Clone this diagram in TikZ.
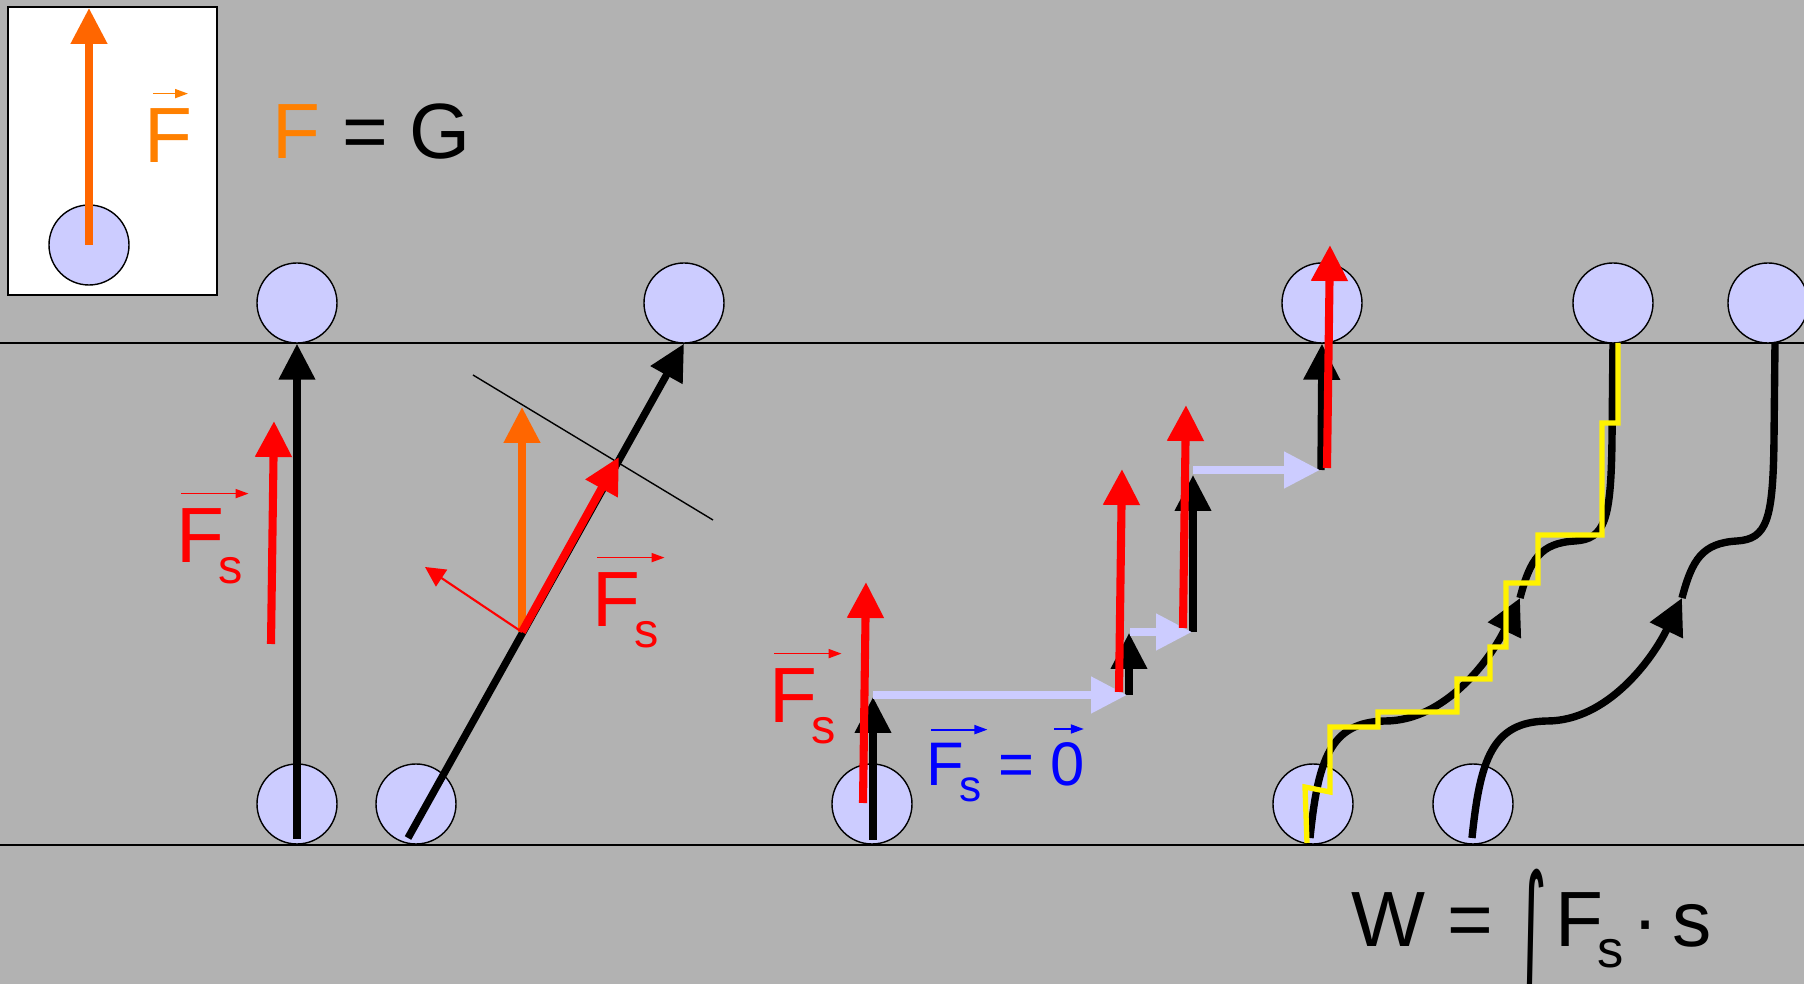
\documentclass[tikz,border=0pt]{standalone}
\usepackage{fontspec}
\setmainfont{Liberation Sans}
\newfontfamily\symfont{DejaVu Sans}
\usepackage{graphicx}
\usetikzlibrary{arrows.meta}
\definecolor{bggray}{RGB}{178,178,178}
\definecolor{ballblue}{RGB}{204,204,255}
\definecolor{forange}{RGB}{255,102,0}
\definecolor{torange}{RGB}{255,128,0}
\newcommand{\subs}[2][0.62]{\kern-0.08em\raisebox{-0.26em}{\scalebox{#1}{#2}}}
\begin{document}
\begin{tikzpicture}[x=0.1mm, y=-0.1mm, >={Triangle[length=3.6mm,width=3.5mm]},
  ball/.style={circle, draw, line width=0.4pt, fill=ballblue, minimum size=8mm, inner sep=0pt},
  rod/.style={->, line width=2.1pt},
  fs/.style={->, red, line width=2.3pt},
  slide/.style={->, ballblue, line width=2.2pt},
  path/.style={line width=2.1pt},
  overarr/.style={-{Triangle[length=1.3mm,width=0.9mm]}, line width=0.5pt},
  txt/.style={anchor=base west, inner sep=0pt, font=\fontsize{22.3}{26}\selectfont}]
  % Background and rails
  \useasboundingbox (0,0) rectangle (1804,984);
  \fill[bggray] (0,0) rectangle (1804,984);
  \draw[line width=0.45pt] (0,343) -- (1804,343);
  \draw[line width=0.45pt] (0,845) -- (1804,845);
  % Inset: F = G
  \draw[fill=white, line width=0.6pt] (8,7) rectangle (217,295);
  \node[ball] (i0) at (89,245) {};
  \coordinate (iF) at (89,8);
  \draw[->, forange, line width=2.2pt] (i0.center) -- (iF);
  \node[txt, torange] (lF) at (144,163) {F};
  \draw[overarr, torange] ([xshift=2.5pt,yshift=4.2pt]lF.north west) -- ([xshift=-1.5pt,yshift=4.2pt]lF.north east);
  \node[txt] (lFG) at (272,159) {\textcolor{torange}{F} = G};
  % Balls
  \foreach \n/\x in {1/297, 2/416, 3/872, 4/1313, 5/1473}
    \node[ball] (b\n) at (\x,804) {};
  \foreach \n/\x in {1/297, 2/684, 3/1322, 4/1613, 5/1768}
    \node[ball] (t\n) at (\x,303) {};
  % Straight up
  \coordinate (s1) at (297,839);
  \draw[rod] (s1) -- (t1.south);
  \coordinate (r1a) at (271,644);
  \coordinate (r1b) at (274,421);
  \draw[fs] (r1a) -- (r1b);
  \node[txt, red] (lFs1) at (176,563) {F\subs{s}};
  \draw[overarr, red] ([xshift=1.5pt,yshift=4.2pt]lFs1.north west) -- ([xshift=1.5pt,yshift=4.2pt]lFs1.north east);
  % Inclined path
  \coordinate (s2) at (408,838);
  \draw[rod] (s2) -- (t2.south);
  \coordinate (tl1) at (473,375);
  \coordinate (tl2) at (713,520);
  \draw[line width=0.4pt] (tl1) -- (tl2);
  \coordinate (o2) at (522,632);
  \coordinate (o2b) at (522,407);
  \draw[->, forange, line width=2.2pt] (o2) -- (o2b);
  \coordinate (r2b) at (619,457);
  \draw[fs] (o2) -- (r2b);
  \coordinate (n2) at (425,567);
  \draw[->, red, line width=0.6pt, >={Triangle[length=2mm,width=2mm]}] (o2) -- (n2);
  \node[txt, red] (lFs2) at (592,627) {F\subs{s}};
  \draw[overarr, red] ([xshift=1.5pt,yshift=4.2pt]lFs2.north west) -- ([xshift=1.5pt,yshift=4.2pt]lFs2.north east);
  % Steps: up and sideways
  \coordinate (a0) at (873,840);  \coordinate (a1) at (873,697);
  \coordinate (a2) at (1129,695); \coordinate (a3) at (1129,633);
  \coordinate (a4) at (1193,632); \coordinate (a5) at (1193,475);
  \coordinate (a6) at (1321,470);
  \draw[rod] (a0) -- (a1);
  \draw[rod] (a2) -- (a3);
  \draw[rod] (a4) -- (a5);
  \draw[rod] (a6) -- (t3.south);
  \draw[slide] (873,695) -- (1127,695);
  \draw[slide] (1130,632) -- (1192,632);
  \draw[slide] (1193,470) -- (1320,470);
  \coordinate (f1a) at (863,803);  \coordinate (f1b) at (866,582);
  \coordinate (f2a) at (1119,692); \coordinate (f2b) at (1122,469);
  \coordinate (f3a) at (1183,628); \coordinate (f3b) at (1186,405);
  \coordinate (f4a) at (1327,468); \coordinate (f4b) at (1330,245);
  \draw[fs] (f1a) -- (f1b);
  \draw[fs] (f2a) -- (f2b);
  \draw[fs] (f3a) -- (f3b);
  \draw[fs] (f4a) -- (f4b);
  \node[txt, red] (lFs3) at (769,723) {F\subs{s}};
  \draw[overarr, red] ([xshift=1.5pt,yshift=4.2pt]lFs3.north west) -- ([xshift=1.5pt,yshift=4.2pt]lFs3.north east);
  % F_s = 0
  \node[txt, blue, font=\fontsize{17.5}{21}\selectfont] (lzF) at (926,786) {F\subs[0.72]{s}};
  \node[txt, blue, font=\fontsize{17.5}{21}\selectfont] (lzeq) at (998,786) {=};
  \node[txt, blue, font=\fontsize{17.5}{21}\selectfont] (lz0) at (1050,786) {0};
  \draw[overarr, blue] ([xshift=1.5pt,yshift=3.8pt]lzF.north west) -- ([xshift=1.5pt,yshift=3.8pt]lzF.north east);
  \draw[overarr, blue] ([xshift=1.2pt,yshift=3.8pt]lz0.north west) -- ([xshift=-0.5pt,yshift=3.8pt]lz0.north east);
  % Curved paths
  \foreach \dx in {0,162} {
    \draw[path, ->] ({1310+\dx},838) .. controls ({1318+\dx},760) and ({1330+\dx},722) .. ({1385+\dx},721)
      .. controls ({1445+\dx},721) and ({1490+\dx},660) .. ({1520+\dx},598);
    \draw[path] ({1520+\dx},598) .. controls ({1530+\dx},560) and ({1540+\dx},543) .. ({1575+\dx},541)
      .. controls ({1605+\dx},539) and ({1611+\dx},520) .. ({1612+\dx},440) -- ({1613+\dx},343);
  }
  % Staircase approximation
  \draw[yellow, line width=1.5pt] (1307,843) -- (1305,787) -- (1330,792) -- (1330,727)
    -- (1378,727) -- (1378,712) -- (1457,712) -- (1457,679) -- (1490,679) -- (1490,647)
    -- (1506,647) -- (1506,583) -- (1538,583) -- (1538,535) -- (1602,535) -- (1602,423)
    -- (1618,423) -- (1618,343);
  % Work integral
  \node[txt] (lW) at (1351,947) {W =};
  \node[anchor=north, inner sep=0pt] (lint) at (1531,868) {\resizebox*{3.3mm}{13.5mm}{\symfont ∫}};
  \node[txt] (lFs4) at (1555,947) {F\subs[0.67]{s}\hspace{0.12em}·\hspace{0.17em}s};
\end{tikzpicture}
\end{document}
